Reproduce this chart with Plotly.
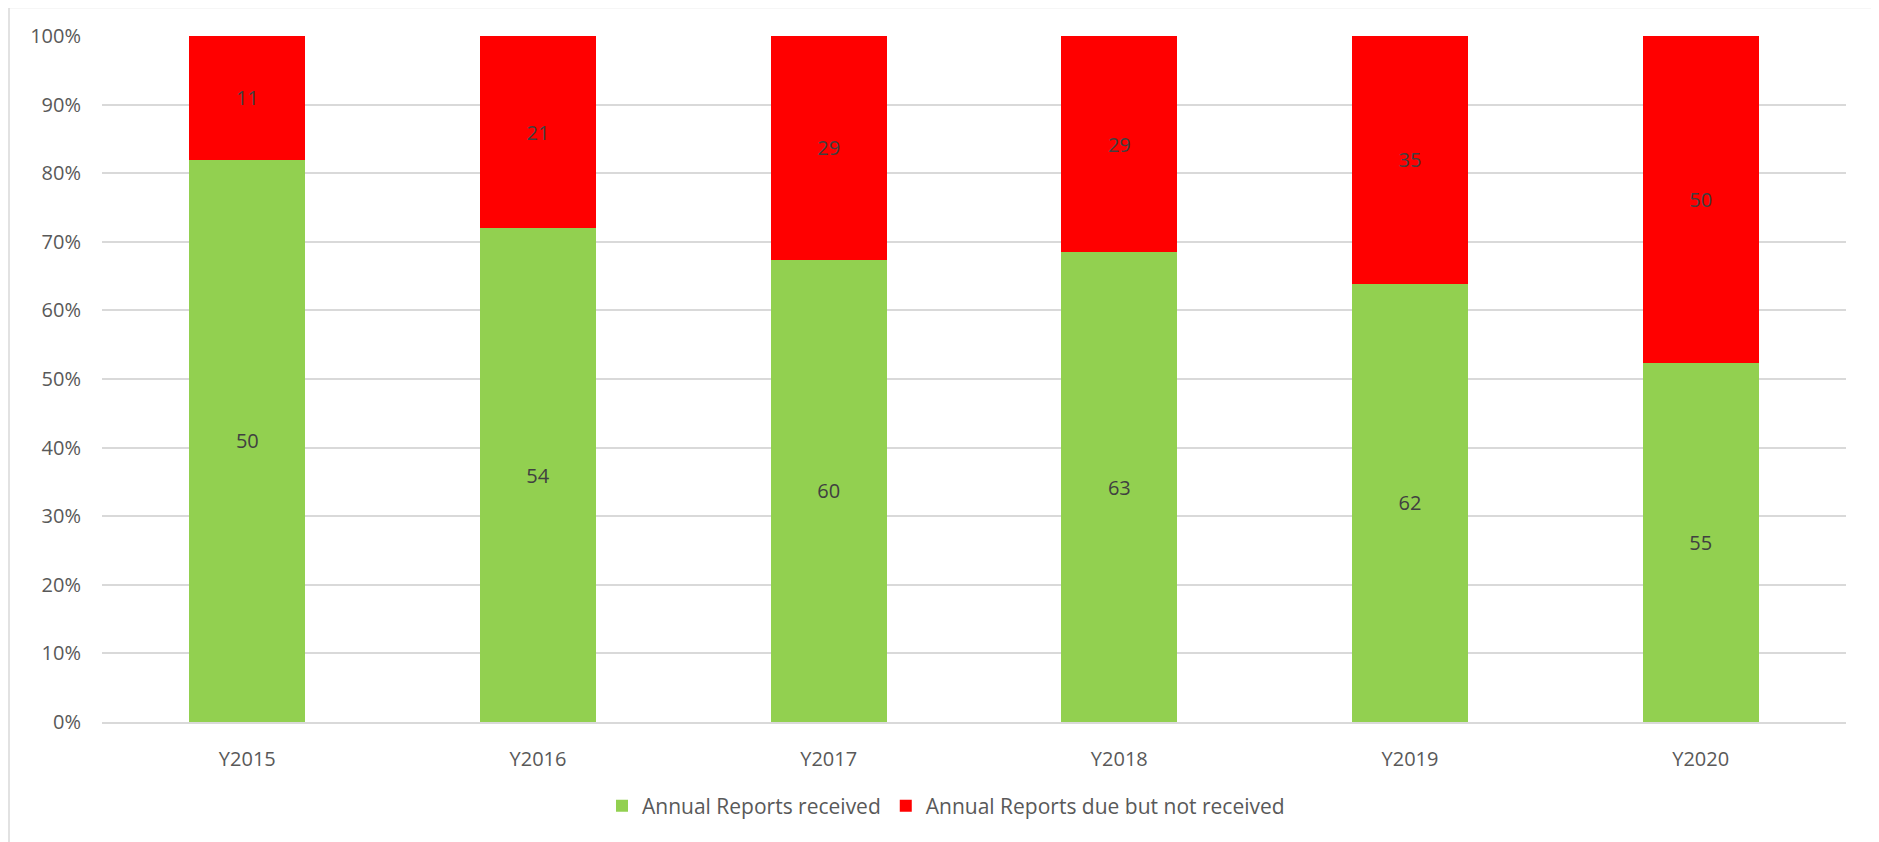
import plotly.graph_objects as go

categories = ["Y2015", "Y2016", "Y2017", "Y2018", "Y2019", "Y2020"]
received = [50, 54, 60, 63, 62, 55]
not_received = [11, 21, 29, 29, 35, 50]
tick_vals = [0, 0.1, 0.2, 0.3, 0.4, 0.5, 0.6, 0.7, 0.8, 0.9, 1.0]

OFF = 8  # default page body margin
W, H = 1879 - OFF, 842 - OFF
PL, PR, PT, PB = 102, 1846, 36, 722  # plot area in page pixels
L, T = PL - OFF, PT - OFF
R, B = OFF + W - PR, OFF + H - PB
pw, ph = PR - PL, PB - PT

FONT = "Open Sans"
TXT = "#595959"

fig = go.Figure()
fig.add_trace(go.Bar(
    x=categories, y=received, name="Annual Reports received",
    marker=dict(color="#92D050", line=dict(width=0)),
    text=received, texttemplate="%{text}", textposition="inside",
    insidetextanchor="middle", textangle=0, constraintext="none",
    textfont=dict(family=FONT, size=20, color="#404040"),
))
fig.add_trace(go.Bar(
    x=categories, y=not_received, name="Annual Reports due but not received",
    marker=dict(color="#FF0000", line=dict(width=0)),
    text=not_received, texttemplate="%{text}", textposition="inside",
    insidetextanchor="middle", textangle=0, constraintext="none",
    textfont=dict(family=FONT, size=20, color="#404040"),
))

fig.update_layout(
    width=W, height=H,
    barmode="stack", barnorm="fraction", bargap=0.6,
    margin=dict(l=L, r=R, t=T, b=B, pad=0),
    paper_bgcolor="white", plot_bgcolor="white",
    font=dict(family=FONT, size=20, color=TXT),
    showlegend=True,
    legend=dict(
        orientation="h", traceorder="normal",
        x=(946 - PL) / pw, xanchor="center",
        y=(PB - 806) / ph, yanchor="middle",
        font=dict(family=FONT, size=21, color=TXT),
        itemwidth=30, bgcolor="rgba(0,0,0,0)",
    ),
    shapes=[dict(
        type="rect", xref="paper", yref="paper",
        x0=(9 - PL) / pw, x1=(1875 - PL) / pw,
        y0=(PB - 860) / ph, y1=(PB - 7.5) / ph,
        line=dict(color="#D9D9D9", width=1.5), fillcolor="rgba(0,0,0,0)",
        layer="below",
    )],
)
fig.update_yaxes(
    range=[0, 1], tickvals=tick_vals, tickformat=".0%",
    showgrid=True, gridcolor="#D9D9D9", gridwidth=1.5,
    zeroline=False, showline=False, ticks="",
    ticklabelstandoff=20,
    tickfont=dict(family=FONT, size=20, color=TXT),
)
fig.update_xaxes(
    showgrid=False, showline=True, linecolor="#D9D9D9", linewidth=1.5,
    ticks="", ticklabelstandoff=18,
    tickfont=dict(family=FONT, size=20, color=TXT),
)

fig.write_html("out.html")
